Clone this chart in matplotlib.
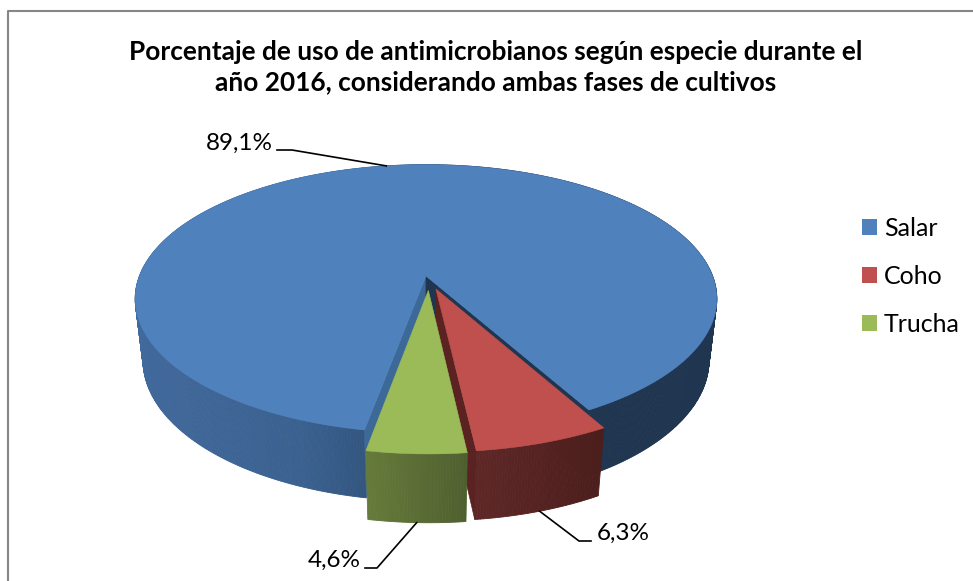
import matplotlib.pyplot as plt
import numpy as np
from matplotlib.colors import to_rgb
from matplotlib.patches import Patch, Polygon

plt.rcParams["font.family"] = ["Lato", "DejaVu Sans"]

title = (
    "Porcentaje de uso de antimicrobianos según especie durante el\n"
    "año 2016, considerando ambas fases de cultivos"
)
species = ["Salar", "Coho", "Trucha"]
percent = [89.1, 6.3, 4.6]
percent_labels = ["89,1%", "6,3%", "4,6%"]

top_colors = ["#4f81bd", "#c0504d", "#9bbb59"]
# side wall colours, (screen x, colour) going left to right
wall_stops = [
    ([135, 300, 365, 480, 716], ["#41699b", "#3a6190", "#33567f", "#1f3550", "#1f3550"]),
    ([473, 600], ["#5f2827", "#4c1e1c"]),
    ([366, 468], ["#667b3b", "#4f5f2f"]),
]
explode = [(0, 0), (0.034, -0.098), (0.008, -0.108)]

# fake 3D camera, fitted by eye on the picture
cx, cy = 426, 276
scale = 286.6
tilt = 0.472
persp = 0.170
persp_z = 0.11
depth = 0.245
first_angle = 190.3


def project(x, y, z=0.0):
    w = 1 + persp * y - persp_z * z
    sx = cx + scale * x / w
    sy = cy - scale * (y * np.sin(tilt) + z * np.cos(tilt)) / w
    return sx, sy


def rim(angle, offset=(0, 0), z=0.0):
    a = np.radians(angle)
    return project(np.sin(a) + offset[0], np.cos(a) + offset[1], z)


def wall_color(sx, stops):
    rgb = np.array([to_rgb(c) for c in stops[1]])
    return tuple(np.interp(sx, stops[0], rgb[:, i]) for i in range(3))


def radial_face(ax, angle, offset, color, zorder):
    pts = [
        project(offset[0], offset[1]),
        rim(angle, offset),
        rim(angle, offset, -depth),
        project(offset[0], offset[1], -depth),
    ]
    ax.add_patch(Polygon(pts, closed=True, fc=color, ec=color, lw=0.5, zorder=zorder))


fig = plt.figure(figsize=(9.73, 5.81), dpi=100)
ax = fig.add_axes([0, 0, 1, 1])
ax.set_xlim(0, 973)
ax.set_ylim(581, 0)
ax.axis("off")

# Chart border
ax.plot([7.5, 7.5, 973], [581, 10.5, 10.5], color="#868686", lw=1.5, zorder=1)

# Slice edges, clockwise from 12 o'clock
sweeps = np.array(percent) / sum(percent) * 360
starts = first_angle + np.concatenate([[0], np.cumsum(sweeps)[:-1]])
ends = starts + sweeps

for i in range(len(percent)):
    base = 10 + i * 10
    arc = np.linspace(starts[i], ends[i], int(sweeps[i] * 2) + 2)

    # outer wall in thin strips so it can carry the gradient
    for a0, a1 in zip(arc[:-1], arc[1:]):
        x0, y0 = rim(a0, explode[i])
        x1, y1 = rim(a1, explode[i])
        x2, y2 = rim(a1, explode[i], -depth)
        x3, y3 = rim(a0, explode[i], -depth)
        c = wall_color((x0 + x1) / 2, wall_stops[i])
        ax.add_patch(
            Polygon(
                [(x0, y0), (x1, y1), (x2, y2), (x3, y3)],
                closed=True, fc=c, ec=c, lw=0.6, zorder=base,
            )
        )

    if i == 0:
        radial_face(ax, starts[i], explode[i], "#3c6997", base + 1)
        radial_face(ax, ends[i], explode[i], "#1f3550", base + 1)
    if i == 1:
        radial_face(ax, ends[i], explode[i], "#5a2322", base + 1)

    top = [project(*explode[i])] + [rim(a, explode[i]) for a in arc]
    ax.add_patch(
        Polygon(top, closed=True, fc=top_colors[i], ec=top_colors[i], lw=0.4, zorder=base + 2)
    )

# Data labels with their leader lines
mids = (starts + ends) / 2
anchors = [
    rim(mids[0]),
    rim(mids[1], explode[1], -depth),
    rim(mids[2], explode[2], -depth),
]
elbows = [[(292, 150), (277, 150)], [(579, 541), (591, 541)], [(377, 568), (365, 568)]]
label_pos = [(273, 143), (597, 533), (361, 560)]
label_ha = ["right", "left", "right"]
for i in range(3):
    xs = [anchors[i][0]] + [p[0] for p in elbows[i]]
    ys = [anchors[i][1]] + [p[1] for p in elbows[i]]
    ax.plot(xs, ys, color="black", lw=1.2, zorder=40)
    ax.text(
        label_pos[i][0], label_pos[i][1], percent_labels[i],
        fontsize=17.5, ha=label_ha[i], va="center", color="black", zorder=41,
    )

ax.text(
    496, 67, title, fontsize=18.9, fontweight="bold", ha="center", va="center",
    linespacing=1.3, color="black",
)

handles = [Patch(fc=c, ec=c, lw=0) for c in top_colors]
ax.legend(
    handles, species,
    loc="upper left", bbox_to_anchor=(862 / 973, 1 - 217 / 581),
    frameon=False, fontsize=18, handlelength=0.6, handleheight=0.6,
    handletextpad=0.28, labelspacing=1.0, borderpad=0, borderaxespad=0,
)

fig.savefig("out.png", dpi=100)
